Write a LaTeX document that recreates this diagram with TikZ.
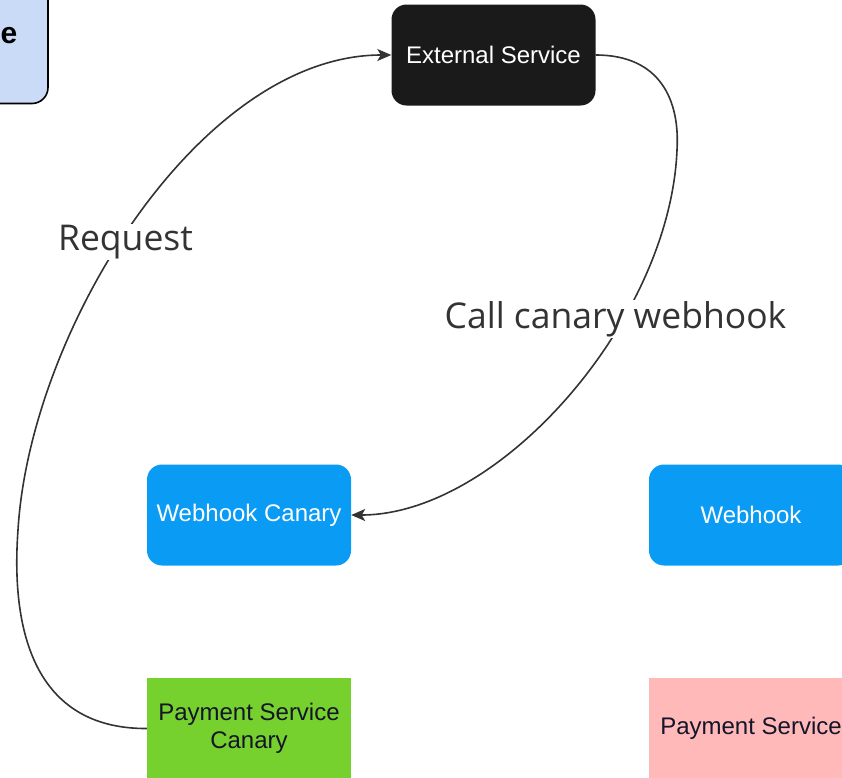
\documentclass[tikz,border=0pt]{standalone}
\usepackage{fontspec}
\setmainfont{Liberation Sans}
\newfontfamily\labelfont{Open Sans}
\usetikzlibrary{arrows.meta}

\definecolor{extfill}{HTML}{1A1A1A}
\definecolor{hookblue}{HTML}{0A9BF5}
\definecolor{canarygreen}{HTML}{76D12E}
\definecolor{paypink}{HTML}{FFB9B9}
\definecolor{legendblue}{HTML}{CADBF8}
\definecolor{linegray}{HTML}{333333}
\definecolor{darktext}{HTML}{14142A}

\tikzset{
  svcbox/.style={minimum width=204pt, minimum height=101pt, inner sep=0pt,
    font=\fontsize{24}{28}\selectfont, align=center},
  roundbox/.style={svcbox, rounded corners=15pt},
  flow/.style={draw=linegray, line width=1.6pt,
    -{Stealth[length=14pt, width=12pt, inset=3.5pt]}},
  flowlabel/.style={fill=white, inner sep=1pt, text=linegray,
    font=\labelfont\fontsize{35.5}{40}\selectfont, anchor=base},
}

\begin{document}
\begin{tikzpicture}[x=1pt, y=-1pt]
\useasboundingbox (0,0) rectangle (842,777);
\clip (0,0) rectangle (842,777);

% legend box, mostly outside the frame
\node[draw=black, line width=1.6pt, fill=legendblue, rounded corners=16pt,
      minimum width=210pt, minimum height=145pt] (legend) at (-57,31) {};
\node[anchor=base east, inner sep=0pt,
      font=\bfseries\fontsize{30}{36}\selectfont] (legendtext) at (17.5,43) {e};

% services
\node[roundbox, fill=extfill, text=white] (ext) at (493.5,55) {External Service};
\node[roundbox, fill=hookblue, text=white] (hookc) at (249,515) {\raisebox{-3pt}{Webhook Canary}};
\node[roundbox, fill=hookblue, text=white] (hook) at (751,515) {Webhook};
\node[svcbox, fill=canarygreen, text=darktext] (payc) at (249,728.5) {Payment Service\\Canary};
\node[svcbox, fill=paypink, text=darktext] (pay) at (751,728.5) {Payment Service};

% connectors
\coordinate (reqbend) at (18,530);
\coordinate (hookbend) at (677,150);
\draw[flow] (payc.west) .. controls (40,729) and (10,640) .. (reqbend)
  .. controls (30,330) and (200,55) .. (ext.west);
\draw[flow] (ext.east) .. controls (660,55) and (680,100) .. (hookbend)
  .. controls (670,320) and (500,515) .. (hookc.east);

% connector labels
\node[flowlabel] (reqlabel) at (125.5,250) {Request};
\node[flowlabel] (calllabel) at (615.5,328) {Call canary webhook};
\end{tikzpicture}
\end{document}
